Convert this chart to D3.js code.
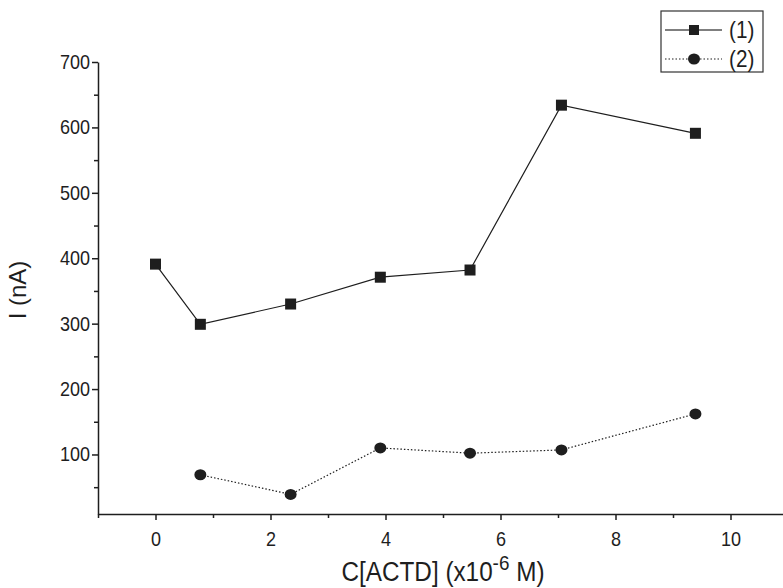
<!DOCTYPE html>
<html>
<head>
<meta charset="utf-8">
<script src="https://cdn.jsdelivr.net/npm/d3@7"></script>
<style>
  body { margin: 0; background: #fff; }
  svg { display: block; }
  text { font-family: "Liberation Sans", Arial, sans-serif; }
</style>
</head>
<body>
<svg width="783" height="588"></svg>
<script>
// series (1) : squares, solid line
var conc1 = [0, 0.78, 2.35, 3.91, 5.47, 7.06, 9.39];
var current1 = [391, 299, 330, 371, 382, 634, 591];
// series (2) : circles, dotted line
var conc2 = [0.78, 2.35, 3.91, 5.47, 7.06, 9.39];
var current2 = [69, 39, 110, 102, 107, 162];

var xTicks = [0, 2, 4, 6, 8, 10];
var xMinor = [-1, 1, 3, 5, 7, 9, 11];
var yTicks = [100, 200, 300, 400, 500, 600, 700];
var yMinor = [50, 150, 250, 350, 450, 550, 650];
var legendLabels = ["(1)", "(2)"];

var svg = d3.select("svg");
var ink = "#1e1e1e";
var narrow = "scale(0.9,1)";   // the original uses a condensed face

var x = d3.scaleLinear().domain([-1, 11]).range([98, 788]);
var y = d3.scaleLinear().domain([9, 700]).range([514, 62]);

// y axis
var gy = svg.append("g").attr("transform", "translate(98,0)");
gy.call(d3.axisLeft(y).tickValues(yTicks).tickSize(6).tickSizeOuter(0).tickPadding(3));
gy.append("g").call(d3.axisLeft(y).tickValues(yMinor).tickSize(4).tickFormat(""))
  .select(".domain").remove();
gy.selectAll(".tick text").attr("font-size", 20).attr("fill", ink)
  .attr("font-family", "Liberation Sans, Arial, sans-serif").attr("transform", narrow);

// x axis
var gx = svg.append("g").attr("transform", "translate(0,514)");
gx.call(d3.axisBottom(x).tickValues(xTicks).tickSize(6).tickSizeOuter(0).tickPadding(12));
gx.append("g").call(d3.axisBottom(x).tickValues(xMinor).tickSize(4).tickFormat(""))
  .select(".domain").remove();
gx.selectAll(".tick text").attr("font-size", 20).attr("fill", ink)
  .attr("font-family", "Liberation Sans, Arial, sans-serif").attr("transform", narrow);

svg.selectAll(".domain, .tick line").attr("stroke", ink).attr("stroke-width", 1.5);

// axis titles
svg.append("text")
  .attr("transform", "translate(26,290) rotate(-90)")
  .attr("text-anchor", "middle")
  .attr("font-size", 24).attr("fill", ink)
  .text("I (nA)");

var xt = svg.append("text")
  .attr("transform", "translate(443,581) " + narrow)
  .attr("text-anchor", "middle")
  .attr("font-size", 27).attr("fill", ink);
xt.append("tspan").text("C[ACTD] (x10");
xt.append("tspan").attr("dy", -11).attr("font-size", 21).text("-6");
xt.append("tspan").attr("dy", 11).text(" M)");

// lines
var line = d3.line().x(function(d) { return x(d[0]); }).y(function(d) { return y(d[1]); });
var pts1 = conc1.map(function(c, i) { return [c, current1[i]]; });
var pts2 = conc2.map(function(c, i) { return [c, current2[i]]; });

svg.append("path").datum(pts1).attr("d", line)
  .attr("fill", "none").attr("stroke", ink).attr("stroke-width", 1.2);
svg.append("path").datum(pts2).attr("d", line)
  .attr("fill", "none").attr("stroke", ink).attr("stroke-width", 1.2)
  .attr("stroke-dasharray", "1.5,2");

svg.selectAll("rect.pt").data(pts1).enter().append("rect")
  .attr("class", "pt")
  .attr("x", function(d) { return x(d[0]) - 5.5; })
  .attr("y", function(d) { return y(d[1]) - 5.5; })
  .attr("width", 11).attr("height", 11)
  .attr("fill", ink);

svg.selectAll("ellipse.pt").data(pts2).enter().append("ellipse")
  .attr("class", "pt")
  .attr("cx", function(d) { return x(d[0]); })
  .attr("cy", function(d) { return y(d[1]); })
  .attr("rx", 6).attr("ry", 5.5)
  .attr("fill", ink);

// legend
var lg = svg.append("g").attr("transform", "translate(661,11)");
lg.append("rect").attr("width", 102).attr("height", 61)
  .attr("fill", "#fff").attr("stroke", "#333").attr("stroke-width", 1.2);
legendLabels.forEach(function(lab, i) {
  var cy = 19 + i * 29;
  var row = lg.append("g");
  row.append("line").attr("x1", 4).attr("x2", 61).attr("y1", cy).attr("y2", cy)
    .attr("stroke", i ? ink : "#555").attr("stroke-width", i ? 1.2 : 1.4)
    .attr("stroke-dasharray", i ? "1.5,2" : null);
  if (i === 0) {
    row.append("rect").attr("x", 28).attr("y", cy - 5).attr("width", 10).attr("height", 10).attr("fill", ink);
  } else {
    row.append("ellipse").attr("cx", 33).attr("cy", cy).attr("rx", 6).attr("ry", 5.5).attr("fill", ink);
  }
  row.append("text").attr("transform", "translate(68," + (cy + 8) + ") " + narrow)
    .attr("font-size", 23).attr("fill", ink)
    .text(lab);
});
</script>
</body>
</html>
